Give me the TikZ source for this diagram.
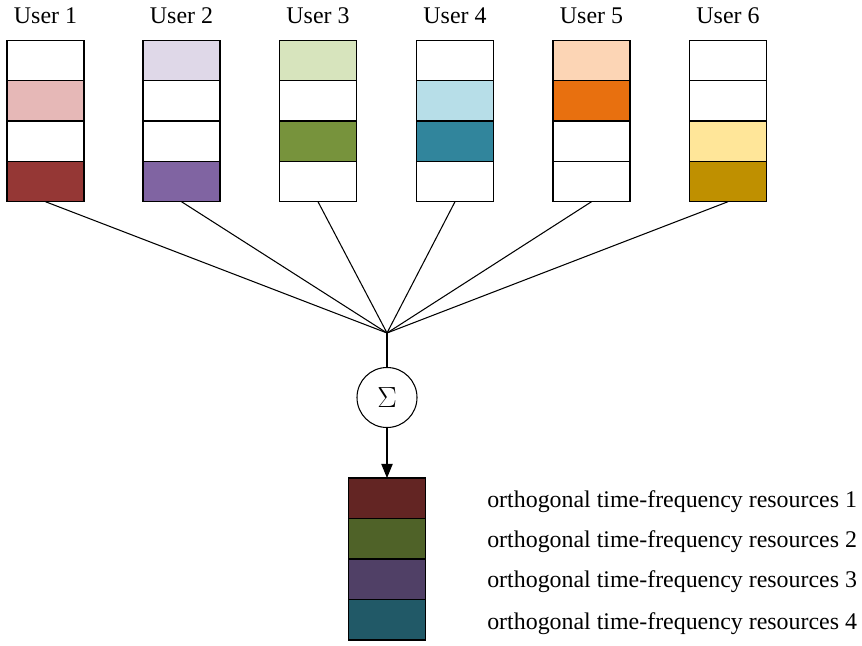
\documentclass[tikz,border=0pt]{standalone}
\usepackage{fontspec}
\setmainfont{Liberation Serif}
\usetikzlibrary{arrows.meta}

\definecolor{upink}{HTML}{E6B8B7}
\definecolor{ured}{HTML}{953735}
\definecolor{ulav}{HTML}{DFD8E8}
\definecolor{upurple}{HTML}{8064A2}
\definecolor{ulgreen}{HTML}{D7E4BD}
\definecolor{ugreen}{HTML}{77933C}
\definecolor{ulblue}{HTML}{B7DEE8}
\definecolor{uteal}{HTML}{31859C}
\definecolor{upeach}{HTML}{FCD5B5}
\definecolor{uorange}{HTML}{E8700F}
\definecolor{uyellow}{HTML}{FFE699}
\definecolor{ugold}{HTML}{BF9000}
\definecolor{rred}{HTML}{632523}
\definecolor{rgreen}{HTML}{4F6228}
\definecolor{rpurple}{HTML}{504066}
\definecolor{rteal}{HTML}{215967}

\begin{document}
\begin{tikzpicture}[x=0.025cm, y=-0.025cm,
  cell/.style={rectangle, draw, line width=0.9pt, minimum width=1.925cm, minimum height=1.01cm, inner sep=0pt, outer sep=0pt},
  lbl/.style={font=\fontsize{17}{20}\selectfont}]
        \useasboundingbox (0,0) rectangle (862,645);
        \coordinate (join) at (387,333);

        % users and their resource blocks
        \foreach \i/\x/\ca/\cb/\cc/\cd in {1/45.5/white/upink/white/ured, 2/181.5/ulav/white/white/upurple,
            3/318/ulgreen/white/ugreen/white, 4/455/white/ulblue/uteal/white,
            5/591.5/upeach/uorange/white/white, 6/728/white/white/uyellow/ugold} {
            \node[lbl] (user\i) at (\x,16) {User \i};
            \node[cell, fill=\ca] (u\i-a) at (\x,60.5) {};
            \node[cell, fill=\cb] (u\i-b) at (\x,100.8) {};
            \node[cell, fill=\cc] (u\i-c) at (\x,141.2) {};
            \node[cell, fill=\cd] (u\i-d) at (\x,181.5) {};
            \draw[line width=0.75pt] (u\i-d.south) -- (join);
        }

        \node[draw, circle, line width=0.75pt, minimum size=1.5cm, inner sep=0pt, font=\fontsize{20}{24}\selectfont] (sum) at (387,397.5) {$\Sigma$};

        % combined resources
        \node[cell, fill=rred] (r1) at (387,498.25) {};
        \node[cell, fill=rgreen] (r2) at (387,538.75) {};
        \node[cell, fill=rpurple] (r3) at (387,579.25) {};
        \node[cell, fill=rteal] (r4) at (387,619.75) {};

        \node[lbl, anchor=west, inner sep=0pt] (t1) at (487,502) {orthogonal time-frequency resources 1};
        \node[lbl, anchor=west, inner sep=0pt] (t2) at (487,542) {orthogonal time-frequency resources 2};
        \node[lbl, anchor=west, inner sep=0pt] (t3) at (487,582) {orthogonal time-frequency resources 3};
        \node[lbl, anchor=west, inner sep=0pt] (t4) at (487,624) {orthogonal time-frequency resources 4};

        \draw[line width=0.75pt] (join) -- (sum);
        \draw[line width=0.75pt, -{Triangle[length=10pt,width=8pt]}] (sum) -- (r1);
\end{tikzpicture}
\end{document}
